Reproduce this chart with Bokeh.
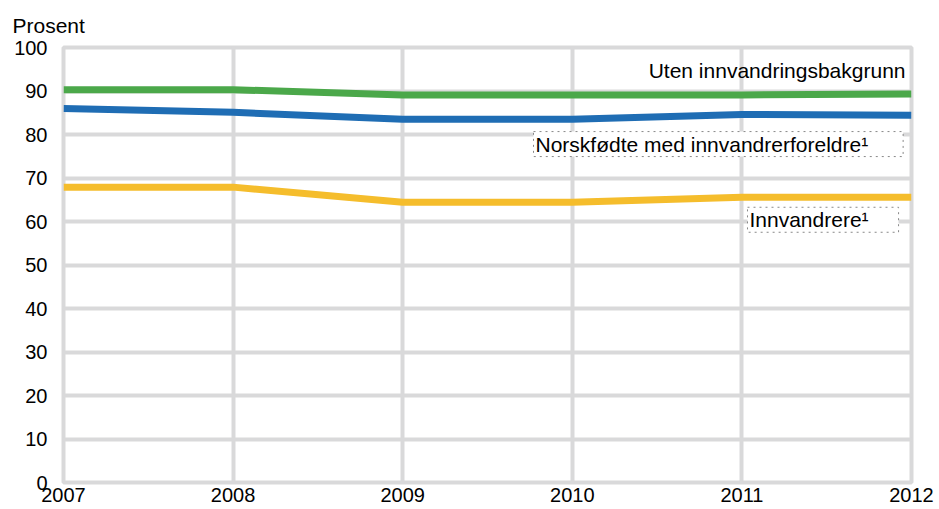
from bokeh.plotting import figure
from bokeh.models import Range1d, FixedTicker, Label
from bokeh.embed import file_html
from bokeh.resources import INLINE

years = [2007, 2008, 2009, 2010, 2011, 2012]
uten = [90.3, 90.3, 89.1, 89.1, 89.1, 89.3]
norskfodte = [86.0, 85.1, 83.5, 83.5, 84.6, 84.4]
innvandrere = [67.9, 67.9, 64.4, 64.4, 65.6, 65.6]
y_ticks = [0, 10, 20, 30, 40, 50, 60, 70, 80, 90, 100]

FONT = "Liberation Sans"
GRID = "#d9d9da"

p = figure(width=939, height=509, output_backend="svg", toolbar_location=None,
           x_range=Range1d(2007, 2012), y_range=Range1d(0, 100),
           min_border_left=63, min_border_right=28, min_border_top=46, min_border_bottom=27)
p.background_fill_color = "white"
p.border_fill_color = "white"
p.outline_line_color = GRID
p.outline_line_width = 4

p.title.text = "Prosent"
p.title.align = "left"
p.title.offset = -51
p.title.text_font = FONT
p.title.text_font_size = "21px"
p.title.text_font_style = "normal"
p.title.text_color = "black"
p.title.standoff = 22

for ax, ticks in ((p.xaxis, years), (p.yaxis, y_ticks)):
    ax.ticker = FixedTicker(ticks=ticks)
    ax.axis_line_color = None
    ax.major_tick_line_color = None
    ax.minor_tick_line_color = None
    ax.major_tick_out = 0
    ax.major_tick_in = 0
    ax.major_label_text_font = FONT
    ax.major_label_text_font_size = "20px"
    ax.major_label_text_color = "black"
p.xaxis.major_label_standoff = 5
p.yaxis.major_label_standoff = 16

p.xgrid.ticker = FixedTicker(ticks=years)
p.ygrid.ticker = FixedTicker(ticks=y_ticks)
for g in (p.xgrid, p.ygrid):
    g.grid_line_color = GRID
    g.grid_line_width = 4

p.line(years, innvandrere, line_color="#f5bd2c", line_width=7)
p.line(years, norskfodte, line_color="#1f6db4", line_width=7)
p.line(years, uten, line_color="#4ba84a", line_width=7)

p.add_layout(Label(x=2012, y=94.7, x_offset=-6, text="Uten innvandringsbakgrunn",
                   text_font=FONT, text_font_size="21px", text_color="black",
                   text_baseline="alphabetic", text_align="right"))

p.add_layout(Label(x=2012, y=77.8, x_offset=-378, text="Norskfødte med innvandrerforeldre¹",
                   text_font=FONT, text_font_size="21px", text_color="black",
                   text_baseline="alphabetic", text_align="left",
                   background_fill_color="white", border_line_color="#888888",
                   border_line_dash="dotted", border_line_width=1,
                   padding=dict(left=2, right=35, top=1, bottom=1)))

p.add_layout(Label(x=2012, y=60.4, x_offset=-164, text="Innvandrere¹",
                   text_font=FONT, text_font_size="21px", text_color="black",
                   text_baseline="alphabetic", text_align="left",
                   background_fill_color="white", border_line_color="#888888",
                   border_line_dash="dotted", border_line_width=1,
                   padding=dict(left=2, right=30, top=1, bottom=1)))

open("out.html", "w").write(file_html(p, INLINE))
